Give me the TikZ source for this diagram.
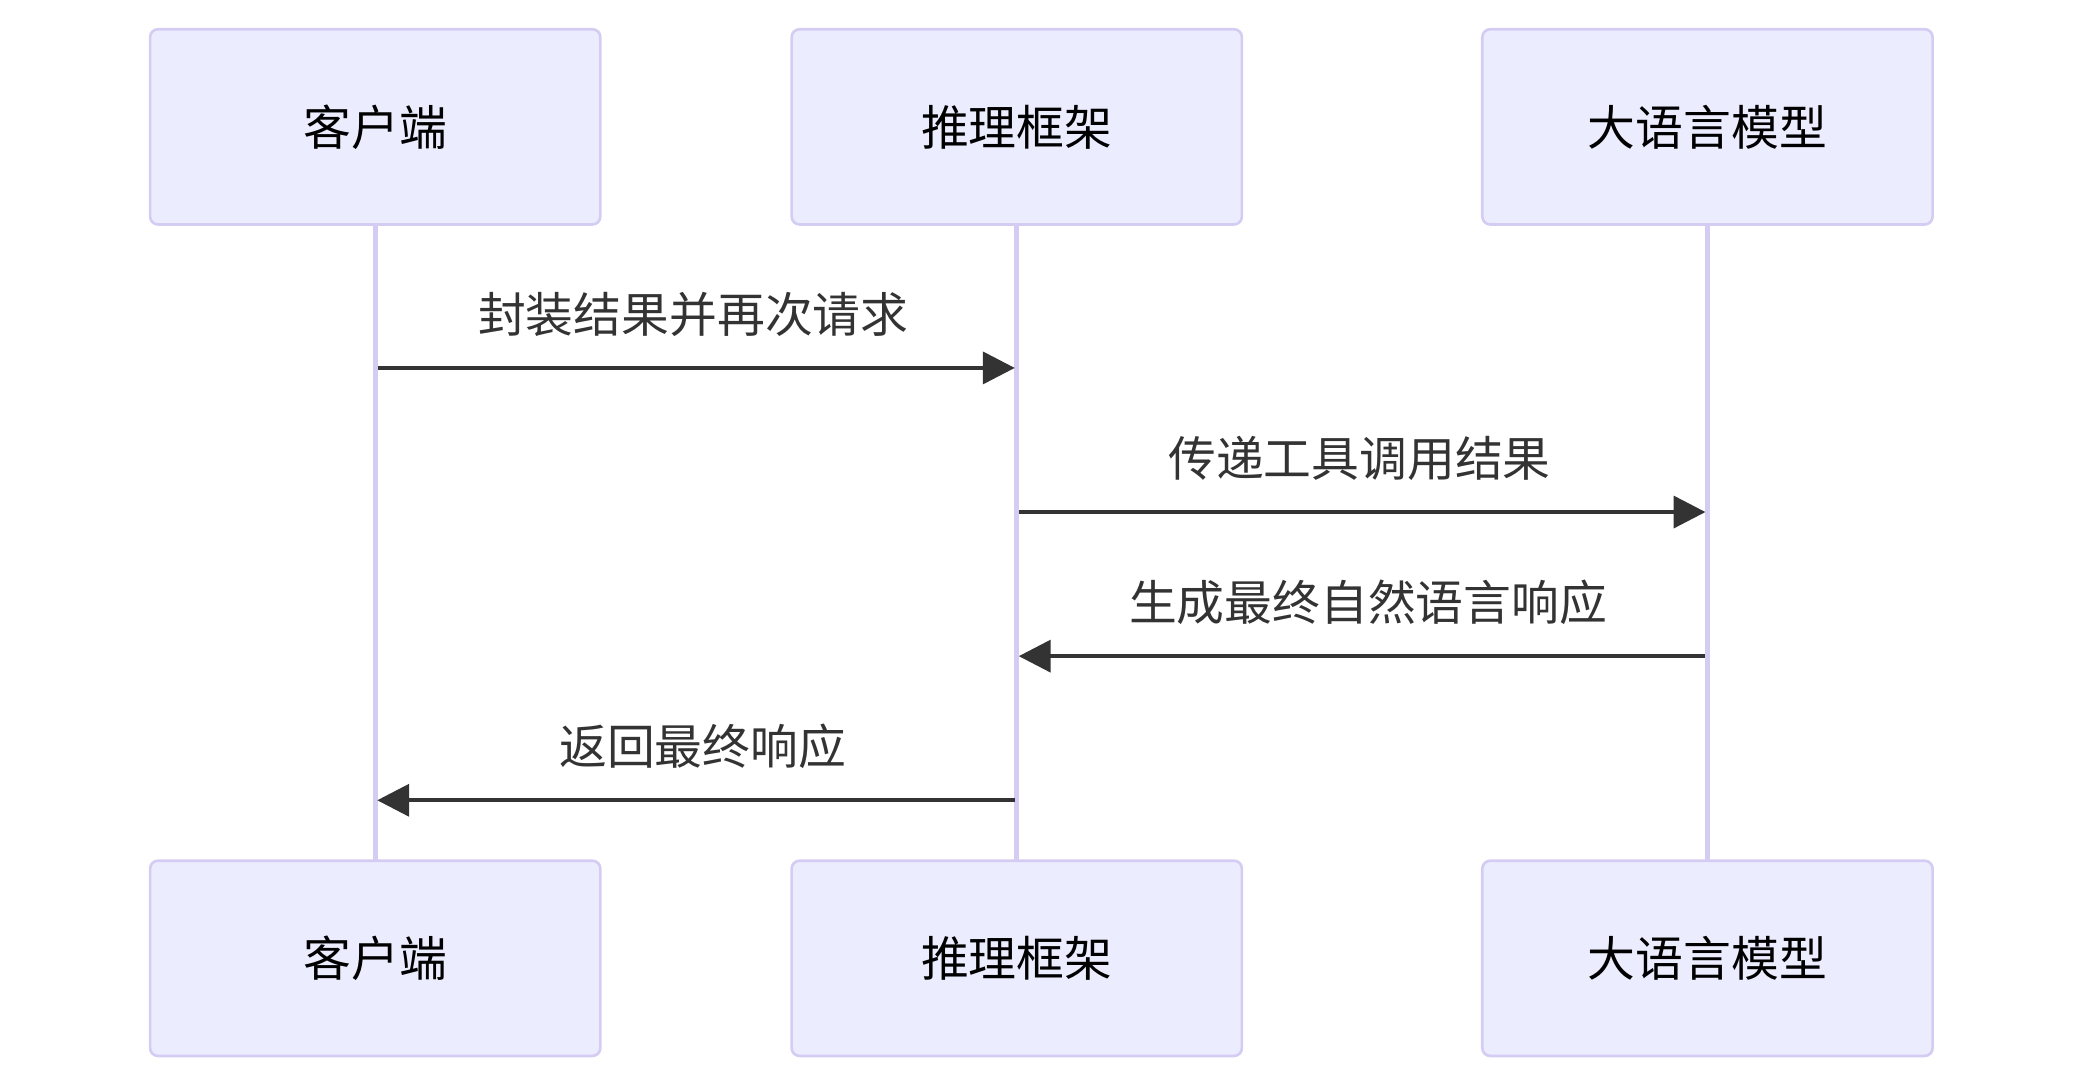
\documentclass[tikz,border=0pt]{standalone}
\usepackage{fontspec}
\setmainfont{Noto Sans CJK SC}
\usetikzlibrary{arrows.meta}
\definecolor{actfill}{HTML}{ECECFF}
\definecolor{actline}{HTML}{D5CCF3}
\definecolor{msg}{HTML}{333333}
\tikzset{
  actor/.style={draw=actline, line width=2pt, fill=actfill, rounded corners=6pt,
    minimum width=339pt, minimum height=147pt, inner sep=0pt,
    font=\fontsize{36}{40}\selectfont, text=black},
  life/.style={draw=actline, line width=3.5pt},
  msgline/.style={draw=msg, line width=3pt, -{Triangle[length=24pt,width=24pt]}},
  msglabel/.style={font=\fontsize{36}{40}\selectfont, text=msg, inner sep=0pt}
}
\begin{document}
\begin{tikzpicture}[x=1pt,y=-1pt]
\useasboundingbox (0,0) rectangle (1567.5,819.9);
% lifelines
\coordinate (l1t) at (282.5,95);
\coordinate (l1b) at (282.5,721);
\coordinate (l2t) at (765.5,95);
\coordinate (l2b) at (765.5,721);
\coordinate (l3t) at (1285.5,95);
\coordinate (l3b) at (1285.5,721);
\draw[life] (l1t) -- (l1b);
\draw[life] (l2t) -- (l2b);
\draw[life] (l3t) -- (l3b);
% actors
\node[actor] (a1) at (282.5,95.5) {客户端};
\node[actor] (a2) at (765.5,95.5) {推理框架};
\node[actor] (a3) at (1285.5,95.5) {大语言模型};
\node[actor] (b1) at (282.5,721.5) {客户端};
\node[actor] (b2) at (765.5,721.5) {推理框架};
\node[actor] (b3) at (1285.5,721.5) {大语言模型};
% message endpoints
\coordinate (m1s) at (284.5,277);
\coordinate (m1e) at (764,277);
\coordinate (m2s) at (767.5,385.5);
\coordinate (m2e) at (1284,385.5);
\coordinate (m3s) at (1283.5,494);
\coordinate (m3e) at (767,494);
\coordinate (m4s) at (764,602.5);
\coordinate (m4e) at (284,602.5);
\draw[msgline] (m1s) -- (m1e);
\draw[msgline] (m2s) -- (m2e);
\draw[msgline] (m3s) -- (m3e);
\draw[msgline] (m4s) -- (m4e);
% labels
\node[msglabel] (t1) at (522,237) {封装结果并再次请求};
\node[msglabel] (t2) at (1023.5,345) {传递工具调用结果};
\node[msglabel] (t3) at (1030,453.5) {生成最终自然语言响应};
\node[msglabel] (t4) at (529,562) {返回最终响应};
\end{tikzpicture}
\end{document}
